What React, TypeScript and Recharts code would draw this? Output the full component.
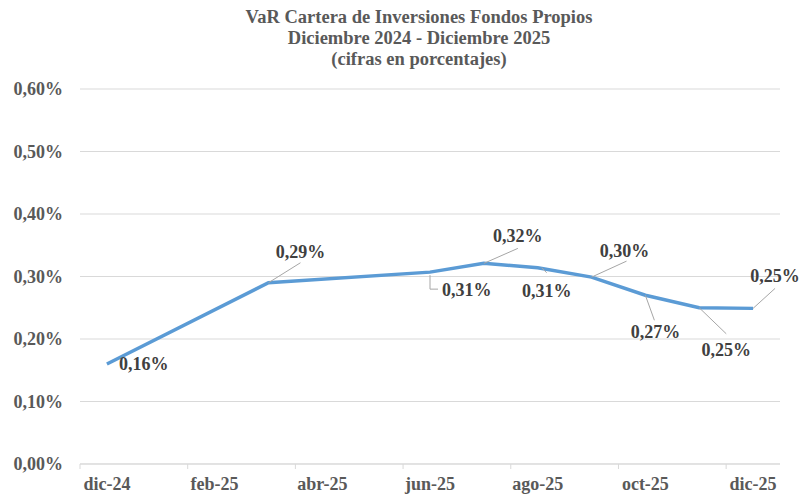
import React from 'react';
import { LineChart, Line, XAxis, YAxis, CartesianGrid } from 'recharts';

const months = ['dic-24', 'ene-25', 'feb-25', 'mar-25', 'abr-25', 'may-25', 'jun-25', 'jul-25', 'ago-25', 'sep-25', 'oct-25', 'nov-25', 'dic-25'];
const varValues: (number | null)[] = [0.16, null, null, 0.29, null, null, 0.307, 0.321, 0.314, 0.299, 0.27, 0.25, 0.249];
const yTicks = [0, 0.1, 0.2, 0.3, 0.4, 0.5, 0.6];
const xTickIndexes = [0, 2, 4, 6, 8, 10, 12];
const titleLines = ['VaR Cartera de Inversiones Fondos Propios', 'Diciembre 2024 - Diciembre 2025', '(cifras en porcentajes)'];

const data = months.map((m, i) => ({ i, m, v: varValues[i] }));

const FONT = '"Liberation Serif", "Times New Roman", serif';
const W = 801;
const H = 495;
const PLOT_LEFT = 80;
const PLOT_RIGHT = 780;
const HALF_BAND = (PLOT_RIGHT - PLOT_LEFT) / months.length / 2;

const fmtPct = (v: number) => v.toFixed(2).replace('.', ',') + '%';

type Layout = { tx: number; ty: number; anchor: 'start' | 'middle'; leader?: number[][] };
const LABEL_LAYOUT: Record<number, Layout> = {
  0: { tx: 12, ty: 6, anchor: 'start' },
  3: { tx: 32, ty: -25, anchor: 'middle', leader: [[0, 0], [32, -20]] },
  6: { tx: 12, ty: 24, anchor: 'start', leader: [[0, 3], [0, 17], [8, 17]] },
  7: { tx: 34, ty: -21, anchor: 'middle', leader: [[0, 0], [34, -15]] },
  8: { tx: 9, ty: 29, anchor: 'middle', leader: [[4, 0], [9, 5]] },
  9: { tx: 33, ty: -20, anchor: 'middle', leader: [[0, 0], [35, -16]] },
  10: { tx: 10, ty: 43, anchor: 'middle', leader: [[0, 0], [9, 25]] },
  11: { tx: 27, ty: 48, anchor: 'middle', leader: [[0, 0], [27, 26]] },
  12: { tx: 22, ty: -26, anchor: 'middle', leader: [[0, 0], [22, -20]] },
};

const renderDot = (props: any) => {
  const { cx, cy, index, payload } = props;
  const key = 'lbl-' + index;
  if (payload == null || payload.v == null || cx == null || cy == null) return <g key={key} />;
  const L = LABEL_LAYOUT[index];
  if (!L) return <g key={key} />;
  return (
    <g key={key}>
      {L.leader && (
        <polyline
          points={L.leader.map(([dx, dy]) => `${cx + dx},${cy + dy}`).join(' ')}
          fill="none"
          stroke="#a6a6a6"
          strokeWidth={1}
        />
      )}
      <text
        x={cx + L.tx}
        y={cy + L.ty}
        textAnchor={L.anchor}
        fontFamily={FONT}
        fontWeight="bold"
        fontSize={18}
        fill="#404040"
      >
        {fmtPct(payload.v)}
      </text>
    </g>
  );
};

const XTick = (props: any) => {
  const { x, y, payload } = props;
  const tx = x - HALF_BAND;
  return (
    <g>
      <line x1={tx} y1={y} x2={tx} y2={y + 5} stroke="#d9d9d9" strokeWidth={1} />
      <text x={x} y={y + 26} textAnchor="middle" fontFamily={FONT} fontWeight="bold" fontSize={18} fill="#595959">
        {months[payload.value]}
      </text>
    </g>
  );
};

export default function App() {
  return (
    <div style={{ position: 'absolute', left: 0, top: 0, width: W, height: H, background: '#fff' }}>
      <LineChart width={W} height={H} data={data} margin={{ top: 89, right: W - PLOT_RIGHT, left: 0, bottom: 0 }}>
        <CartesianGrid vertical={false} stroke="#d9d9d9" />
        <XAxis
          dataKey="i"
          type="number"
          domain={[-0.5, 12.5]}
          ticks={xTickIndexes}
          interval={0}
          height={31}
          tickSize={0}
          tickMargin={0}
          tickLine={false}
          axisLine={{ stroke: '#d9d9d9' }}
          tick={<XTick />}
        />
        <YAxis
          type="number"
          domain={[0, 0.6]}
          ticks={yTicks}
          width={PLOT_LEFT}
          axisLine={false}
          tickLine={false}
          tickSize={0}
          tickMargin={17}
          tickFormatter={fmtPct}
          tick={{ fontFamily: FONT, fontWeight: 'bold', fontSize: 18, fill: '#595959' }}
        />
        <Line
          dataKey="v"
          type="linear"
          stroke="#5b9bd5"
          strokeWidth={3.5}
          connectNulls
          dot={renderDot}
          activeDot={false}
          isAnimationActive={false}
        />
      </LineChart>
      <svg width={W} height={80} style={{ position: 'absolute', left: 0, top: 0 }}>
        {titleLines.map((t, k) => (
          <text key={k} x={419} y={23 + k * 21} textAnchor="middle" fontFamily={FONT} fontWeight="bold" fontSize={18.5} fill="#595959">
            {t}
          </text>
        ))}
      </svg>
    </div>
  );
}
